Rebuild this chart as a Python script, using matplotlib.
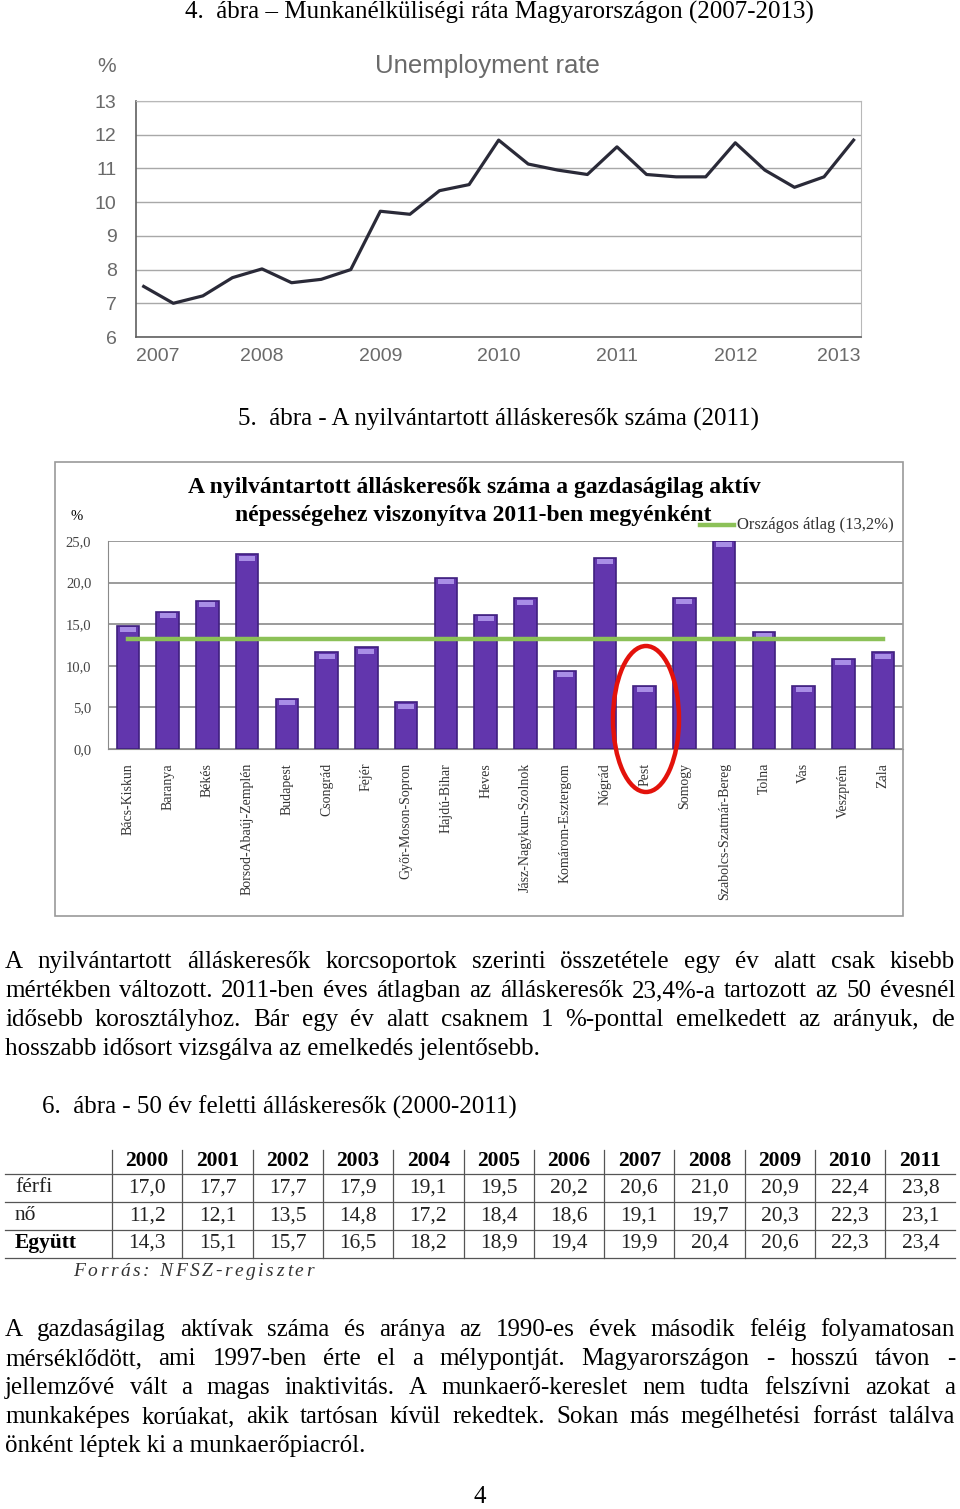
import matplotlib
matplotlib.use('Agg')
import matplotlib.pyplot as plt
from matplotlib.patches import Ellipse, Rectangle
from matplotlib.transforms import ScaledTranslation

# --- data ---
# 4. abra: quarterly unemployment rate 2007 Q1 .. 2013 Q1
unemp = [7.5, 7.0, 7.22, 7.76, 8.02, 7.61, 7.71, 8.0, 9.73, 9.64, 10.34, 10.52, 11.84,
         11.13, 10.95, 10.82, 11.64, 10.82, 10.75, 10.75, 11.76, 10.95, 10.44, 10.75, 11.84]
years = ['2007', '2008', '2009', '2010', '2011', '2012', '2013']

# 5. abra: job seekers / active population by county, 2011
megyek = ['Bács-Kiskun', 'Baranya', 'Békés', 'Borsod-Abaúj-Zemplén', 'Budapest', 'Csongrád',
          'Fejér', 'Győr-Moson-Sopron', 'Hajdú-Bihar', 'Heves', 'Jász-Nagykun-Szolnok',
          'Komárom-Esztergom', 'Nógrád', 'Pest', 'Somogy', 'Szabolcs-Szatmár-Bereg', 'Tolna',
          'Vas', 'Veszprém', 'Zala']
arany = [14.8, 16.5, 17.8, 23.4, 6.0, 11.6, 12.2, 5.6, 20.6, 16.1, 18.1, 9.4, 23.0, 7.6,
         18.2, 25.0, 14.1, 7.6, 10.8, 11.6]
atlag = 13.2

# 6. abra: job seekers over 50 (%)
tabla_evek = ['2000', '2001', '2002', '2003', '2004', '2005', '2006', '2007', '2008', '2009', '2010', '2011']
ferfi = [17.0, 17.7, 17.7, 17.9, 19.1, 19.5, 20.2, 20.6, 21.0, 20.9, 22.4, 23.8]
no = [11.2, 12.1, 13.5, 14.8, 17.2, 18.4, 18.6, 19.1, 19.7, 20.3, 22.3, 23.1]
egyutt = [14.3, 15.1, 15.7, 16.5, 18.2, 18.9, 19.4, 19.9, 20.4, 20.6, 22.3, 23.4]

par1 = ["A nyilvántartott álláskeresők korcsoportok szerinti összetétele egy év alatt csak kisebb",
        "mértékben változott. 2011-ben éves átlagban az álláskeresők 23,4%-a tartozott az 50 évesnél",
        "idősebb korosztályhoz. Bár egy év alatt csaknem 1 %-ponttal emelkedett az arányuk, de",
        "hosszabb idősort vizsgálva az emelkedés jelentősebb."]
par2 = ["A gazdaságilag aktívak száma és aránya az 1990-es évek második feléig folyamatosan",
        "mérséklődött, ami 1997-ben érte el a mélypontját. Magyarországon - hosszú távon -",
        "jellemzővé vált a magas inaktivitás. A munkaerő-kereslet nem tudta felszívni azokat a",
        "munkaképes korúakat, akik tartósan kívül rekedtek. Sokan más megélhetési forrást találva",
        "önként léptek ki a munkaerőpiacról."]

W, H = 960, 1509
SERIF = 'Liberation Serif'
SANS = 'Liberation Sans'
fig = plt.figure(figsize=(W / 100, H / 100), dpi=100)


def box(x0, y0, x1, y1):
    # pixel box (from top-left) -> figure fraction rect
    return [x0 / W, 1 - y1 / H, (x1 - x0) / W, (y1 - y0) / H]


### chart 1: unemployment rate ###
ax1 = fig.add_axes(box(136, 101, 861, 337))
ax1.plot(range(len(unemp)), unemp, color='#2a2a38', lw=2.3, zorder=3)
ax1.set_xlim(-0.26, len(unemp) - 0.75)
ax1.set_ylim(6, 13)
ax1.set_yticks(range(6, 14))
ax1.set_xticks(range(0, len(unemp), 4))
ax1.set_xticklabels(years)
ax1.grid(axis='y', color='#a8a8a8', lw=1)
ax1.set_axisbelow(True)
for s in ['top', 'right']:
    ax1.spines[s].set_color('#b8b8b8')
for s in ['left', 'bottom']:
    ax1.spines[s].set_color('#606060')
    ax1.spines[s].set_linewidth(1.2)
ax1.tick_params(axis='y', length=0, labelsize=14, labelcolor='#6a6a6a', pad=14)
ax1.tick_params(axis='x', length=0, labelsize=14, labelcolor='#6a6a6a', pad=8)
for t in ax1.get_xticklabels() + ax1.get_yticklabels():
    t.set_family(SANS)
xl = ax1.get_xticklabels()
xl[0].set_ha('left')
xl[0].set_transform(xl[0].get_transform() + ScaledTranslation(-0.08, 0, fig.dpi_scale_trans))
xl[-1].set_ha('right')
xl[-1].set_transform(xl[-1].get_transform() + ScaledTranslation(0.07, 0, fig.dpi_scale_trans))

### chart 2: job seekers by county ###
ax2 = fig.add_axes(box(108, 541, 903, 749))
x = range(len(megyek))
ax2.bar(x, arany, width=0.56, color='#6236ad', edgecolor='#40207f', lw=1.2, zorder=3)
# lighter caps on top of the cylinders
ax2.bar(x, [0.6] * len(arany), bottom=[v - 0.75 for v in arany], width=0.4,
        color='#a98ee6', lw=0, zorder=4)
ax2.plot([0, len(megyek) - 1], [atlag, atlag], color='#8cc158', lw=3.2, zorder=5)
ax2.set_xlim(-0.5, len(megyek) - 0.5)
ax2.set_ylim(0, 25)
ax2.set_yticks(range(0, 26, 5))
ax2.set_yticklabels(['%d,0' % v for v in range(0, 26, 5)])
ax2.set_xticks(list(x))
ax2.set_xticklabels(megyek, rotation=90, va='top', ha='center')
ax2.grid(axis='y', color='#8a8a8a', lw=1.2)
ax2.set_axisbelow(True)
for s in ['top', 'right']:
    ax2.spines[s].set_visible(False)
ax2.spines['left'].set_color('#8a8a8a')
ax2.spines['bottom'].set_color('#8a8a8a')
ax2.tick_params(axis='y', length=0, pad=12, labelsize=10.5, labelcolor='#444444')
ax2.tick_params(axis='x', length=0, pad=10, labelsize=10, labelcolor='#333333')
for t in ax2.get_xticklabels() + ax2.get_yticklabels():
    t.set_family(SERIF)

### page overlay in pixel coordinates ###
ov = fig.add_axes([0, 0, 1, 1])
ov.set_xlim(0, W)
ov.set_ylim(H, 0)
ov.axis('off')
renderer = fig.canvas.get_renderer()


def justify(lines, y0, step, size, x0=5, x1=955):
    for i, line in enumerate(lines):
        y = y0 + i * step
        words = line.split(' ')
        if i == len(lines) - 1:
            ov.text(x0, y, line, fontsize=size, family=SERIF, va='center', ha='left')
            continue
        objs = [ov.text(0, y, w, fontsize=size, family=SERIF, va='center', ha='left') for w in words]
        widths = [o.get_window_extent(renderer).width for o in objs]
        gap = (x1 - x0 - sum(widths)) / (len(words) - 1)
        pos = x0
        for o, w in zip(objs, widths):
            o.set_x(pos)
            pos += w + gap


body = 18
ov.text(499, 12, '4.  ábra – Munkanélküliségi ráta Magyarországon (2007-2013)',
        fontsize=body, family=SERIF, ha='center', va='center')
ov.text(107, 66, '%', fontsize=15, color='#6a6a6a', ha='center', va='center', family=SANS)
ov.text(487, 66, 'Unemployment rate', fontsize=18.5, color='#6a6a6a', ha='center', va='center',
        family=SANS)

ov.text(499, 419, '5.  ábra - A nyilvántartott álláskeresők száma (2011)',
        fontsize=body, family=SERIF, ha='center', va='center')
ov.add_patch(Rectangle((55, 462), 848, 454, fill=False, ec='#9a9a9a', lw=1.2))
ov.text(474, 488, 'A nyilvántartott álláskeresők száma a gazdaságilag aktív',
        fontsize=17, weight='bold', family=SERIF, ha='center', va='center')
ov.text(473, 516, 'népességehez viszonyítva 2011-ben megyénként',
        fontsize=17, weight='bold', family=SERIF, ha='center', va='center')
ov.text(77, 517, '%', fontsize=10.5, family=SERIF, ha='center', va='center')
ov.plot([700, 734], [525, 525], color='#8cc158', lw=3.2)
ov.text(737, 525, 'Országos átlag (13,2%)', fontsize=12, family=SERIF, color='#333333',
        ha='left', va='center')
ov.add_patch(Ellipse((646, 719), 66, 146, fill=False, ec='#e3120b', lw=3.2))

justify(par1, 962, 29, body)

ov.text(42, 1107, '6.  ábra - 50 év feletti álláskeresők (2000-2011)',
        fontsize=body, family=SERIF, ha='left', va='center')

# table
col0 = 112
colw = 70.3
row_y = [1161, 1188, 1216, 1243]
tsize = 15.5
for k in range(len(tabla_evek)):
    xv = col0 + k * colw
    ov.plot([xv, xv], [1150, 1258], color='#555555', lw=0.9)
for yl in [1174, 1202, 1230, 1258]:
    ov.plot([5, 955], [yl, yl], color='#555555', lw=0.9)
for k, ev in enumerate(tabla_evek):
    cx = col0 + (k + 0.5) * colw
    ov.text(cx, row_y[0], ev, fontsize=tsize, weight='bold', family=SERIF, ha='center', va='center')
    for r, sor in enumerate([ferfi, no, egyutt]):
        ov.text(cx, row_y[r + 1], ('%.1f' % sor[k]).replace('.', ','), fontsize=tsize,
                family=SERIF, ha='center', va='center', color='#222222')
ov.text(15, row_y[1], 'férfi', fontsize=tsize, family=SERIF, ha='left', va='center', color='#222222')
ov.text(15, row_y[2], 'nő', fontsize=tsize, family=SERIF, ha='left', va='center', color='#222222')
ov.text(15, row_y[3], 'Együtt', fontsize=tsize, weight='bold', family=SERIF, ha='left', va='center')

# spaced-out source line
src = 'Forrás: NFSZ-regiszter'
pos = 73
for ch in src:
    t = ov.text(pos, 1271, ch, fontsize=14, style='italic', family=SERIF, ha='left',
                va='center', color='#333333')
    pos += t.get_window_extent(renderer).width + 2.6

justify(par2, 1330, 29, body)

ov.text(480, 1497, '4', fontsize=body, family=SERIF, ha='center', va='center')

fig.savefig('out.png', dpi=100)
